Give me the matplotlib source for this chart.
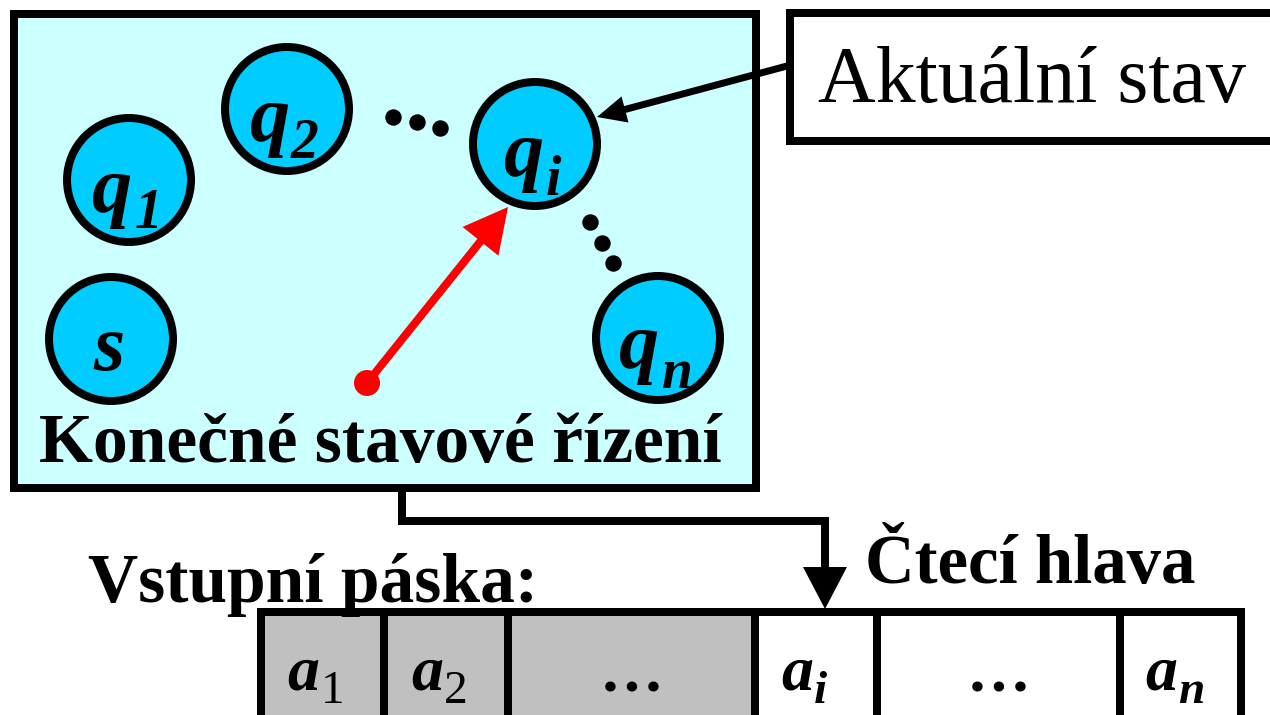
import matplotlib
matplotlib.use("Agg")
import matplotlib.pyplot as plt
from matplotlib.patches import Circle, Rectangle, FancyArrow

# ---- data ----
state_letters = ["s", "q", "q", "q", "q"]
state_subs = ["", "1", "2", "i", "n"]
state_cx = [111, 129, 287, 535, 658]
state_cy = [339, 180, 109, 144, 338]
letter_x = [93, 92, 250, 504, 619]
letter_base = [370, 212, 141, 176, 368]
sub_x = [0, 135, 291, 546, 662]
sub_base = [0, 228, 158, 195, 388]

dots_x = [393, 417, 440, 590, 602, 613]
dots_y = [117, 122, 128, 222, 243, 263]

tape_edges = [261, 384, 508, 755, 877, 1120, 1241]
tape_letters = ["a", "a", "…", "a", "…", "a"]
tape_subs = ["1", "2", "", "i", "", "n"]
tape_read = [True, True, True, False, False, False]

control_title = "Konečné stavové řízení"
current_label = "Aktuální stav"
tape_title = "Vstupní páska:"
head_title = "Čtecí hlava"

# ---- figure ----
W, H = 1270, 715
fig = plt.figure(figsize=(W / 100, H / 100), dpi=100)
ax = fig.add_axes([0, 0, 1, 1])
ax.set_xlim(0, W)
ax.set_ylim(H, 0)
ax.axis("off")

px = 0.72  # points per pixel
LW = 8 * px
SERIF = "Liberation Serif"

# control box
ax.add_patch(Rectangle((14, 14), 742, 474, facecolor="#ccffff",
                       edgecolor="black", lw=LW, joinstyle="miter", zorder=1))
ax.text(39, 462, control_title, fontsize=50, fontweight="bold",
        family=SERIF, ha="left", va="baseline", zorder=5)

# current state box
ax.add_patch(Rectangle((790, 13), 520, 128, facecolor="white",
                       edgecolor="black", lw=LW, joinstyle="miter", zorder=1))
ax.text(818, 102, current_label, fontsize=57.5, family=SERIF,
        ha="left", va="baseline", zorder=5)

# states
for i in range(len(state_letters)):
    ax.add_patch(Circle((state_cx[i], state_cy[i]), 62, facecolor="#00ccff",
                        edgecolor="black", lw=LW, zorder=3))
    ax.text(letter_x[i], letter_base[i], state_letters[i], fontsize=58,
            fontweight="bold", fontstyle="italic", family=SERIF,
            ha="left", va="baseline", zorder=5)
    if state_subs[i]:
        ax.text(sub_x[i], sub_base[i], state_subs[i], fontsize=40,
                fontweight="bold", fontstyle="italic", family=SERIF,
                ha="left", va="baseline", zorder=5)

# dots
ax.scatter(dots_x, dots_y, s=140, color="black", zorder=4, linewidths=0)

# red arrow (current state pointer)
ax.add_patch(FancyArrow(367, 383, 508 - 367, 207 - 383, width=8,
                        head_width=46, head_length=44,
                        length_includes_head=True, color="#ff0000",
                        lw=0, zorder=4))
ax.add_patch(Circle((367, 383), 13, facecolor="#ff0000", lw=0, zorder=4))

# black arrow from label
ax.add_patch(FancyArrow(787, 66, 597 - 787, 117 - 66, width=7,
                        head_width=27, head_length=29,
                        length_includes_head=True, color="black",
                        lw=0, zorder=4))

# connector to reading head
ax.plot([402, 402, 825, 825], [488, 521, 521, 570], color="black",
        lw=LW, solid_joinstyle="miter", solid_capstyle="butt", zorder=2)
ax.add_patch(FancyArrow(825, 560, 0, 609 - 560, width=1,
                        head_width=44, head_length=42,
                        length_includes_head=True, color="black",
                        lw=0, zorder=4))

ax.text(88, 602, tape_title, fontsize=50, fontweight="bold",
        family=SERIF, ha="left", va="baseline", zorder=5)
ax.text(865, 583, head_title, fontsize=49.5, fontweight="bold",
        family=SERIF, ha="left", va="baseline", zorder=5)

# tape
for i in range(len(tape_letters)):
    x0, x1 = tape_edges[i], tape_edges[i + 1]
    ax.add_patch(Rectangle((x0, 612), x1 - x0, 130,
                           facecolor="#c0c0c0" if tape_read[i] else "white",
                           edgecolor="black", lw=LW, joinstyle="miter",
                           zorder=1))
    cx = (x0 + x1) / 2
    if tape_subs[i]:
        ax.text(cx - 3, 689, tape_letters[i], fontsize=46, fontweight="bold",
                fontstyle="italic", family=SERIF, ha="right",
                va="baseline", zorder=5)
        sub_style = "normal" if tape_subs[i].isdigit() else "italic"
        sub_weight = "normal" if tape_subs[i].isdigit() else "bold"
        ax.text(cx - 2, 703, tape_subs[i], fontsize=34, fontweight=sub_weight,
                fontstyle=sub_style, family=SERIF, ha="left",
                va="baseline", zorder=5)
    else:
        ax.text(cx, 691, tape_letters[i], fontsize=46, fontweight="bold",
                family=SERIF, ha="center", va="baseline", zorder=5)

fig.savefig("out.png", dpi=100)
